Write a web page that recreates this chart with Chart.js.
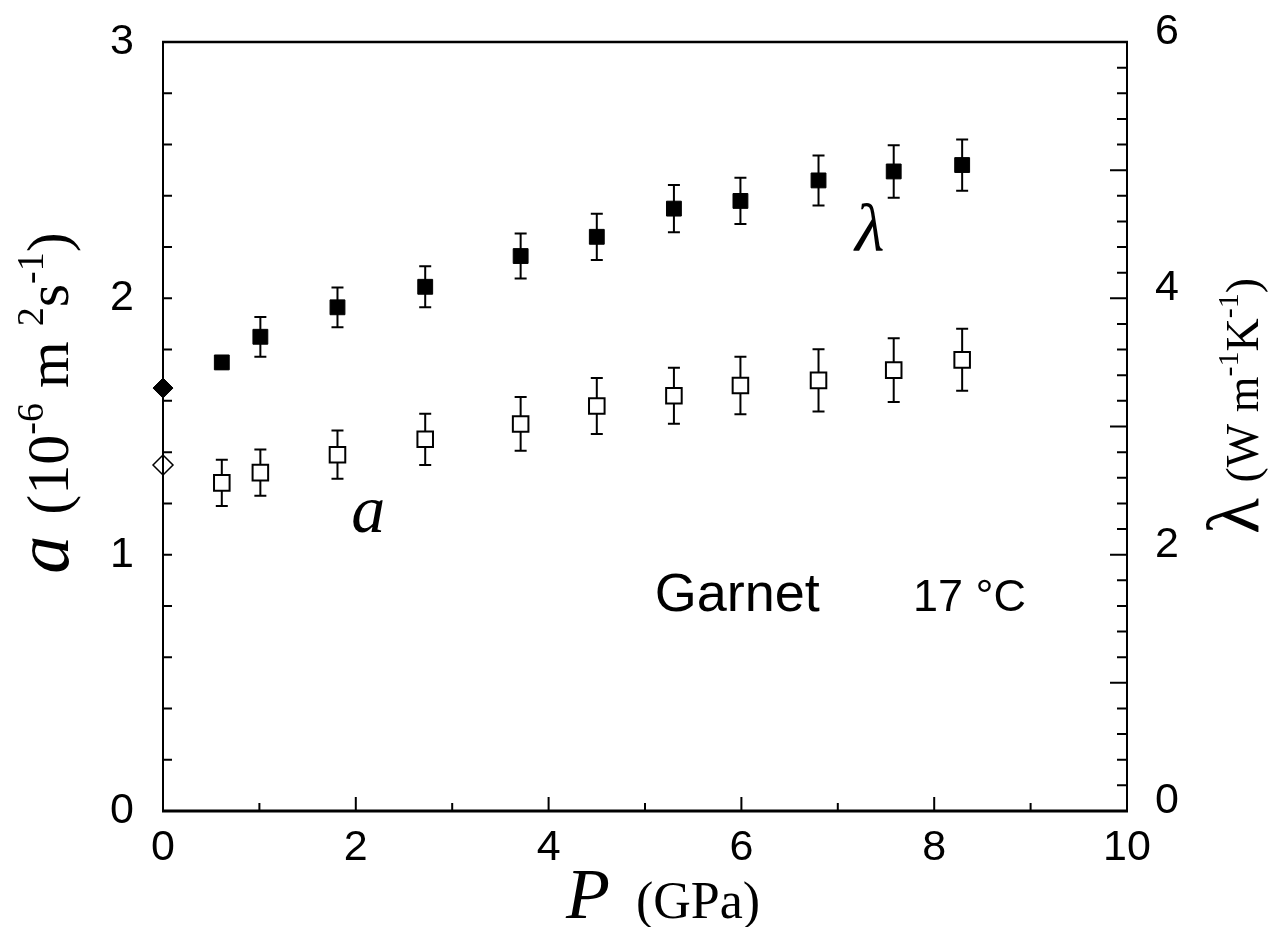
<!DOCTYPE html>
<html><head><meta charset="utf-8">
<script src="https://cdn.jsdelivr.net/npm/chart.js@4.4.0/dist/chart.umd.min.js"></script>
<style>html,body{margin:0;padding:0;background:#fff}canvas{display:block}</style>
</head><body>
<canvas id="c" width="1274" height="927"></canvas>
<script>
// ---- data ----
const pressureGPa       = [0.61, 1.01, 1.81, 2.72, 3.71, 4.50, 5.30, 5.99, 6.80, 7.58, 8.29];
const lambdaValues      = [3.50, 3.70, 3.93, 4.09, 4.33, 4.48, 4.70, 4.76, 4.92, 4.99, 5.04];
const lambdaErrors      = [0.05, 0.155, 0.155, 0.16, 0.175, 0.18, 0.185, 0.18, 0.195, 0.205, 0.20];
const diffusivityValues = [1.28, 1.32, 1.39, 1.45, 1.51, 1.58, 1.62, 1.66, 1.68, 1.72, 1.76];
const diffusivityErrors = [0.09, 0.09, 0.094, 0.10, 0.105, 0.109, 0.109, 0.112, 0.121, 0.124, 0.121];
const ambientPressure    = [0];
const ambientLambda      = [3.30];
const ambientDiffusivity = [1.35];
const xTickValues     = [0, 2, 4, 6, 8, 10];
const leftTickValues  = [0, 1, 2, 3];
const rightTickValues = [0, 2, 4, 6];

const SANS = "'Liberation Sans', Arial, sans-serif";
const SERIF = "'Liberation Serif', 'Times New Roman', serif";

function pts(xs, ys) { return xs.map((x, i) => ({ x: x, y: ys[i] })); }

const errorBarPlugin = {
  id: 'errorBars',
  beforeDatasetsDraw(chart) {
    const ctx = chart.ctx;
    ctx.save();
    ctx.strokeStyle = '#000';
    ctx.lineWidth = 2;
    chart.data.datasets.forEach(ds => {
      if (!ds.errorBars) return;
      const xs = chart.scales.x, ys = chart.scales[ds.yAxisID];
      ds.data.forEach((p, i) => {
        const e = ds.errorBars[i];
        const px = xs.getPixelForValue(p.x);
        const y1 = ys.getPixelForValue(p.y + e), y2 = ys.getPixelForValue(p.y - e);
        ctx.beginPath();
        ctx.moveTo(px, y1); ctx.lineTo(px, y2);
        ctx.moveTo(px - 6, y1); ctx.lineTo(px + 6, y1);
        ctx.moveTo(px - 6, y2); ctx.lineTo(px + 6, y2);
        ctx.stroke();
      });
    });
    ctx.restore();
  }
};

function drawRich(ctx, segs, cx, cy, rot) {
  ctx.save();
  ctx.translate(cx, cy);
  ctx.rotate(rot);
  let total = 0;
  segs.forEach(s => { ctx.font = s.font; s.w = ctx.measureText(s.t).width + (s.gap || 0); total += s.w; });
  let x = -total / 2;
  ctx.fillStyle = '#000';
  ctx.textBaseline = 'alphabetic';
  ctx.textAlign = 'left';
  segs.forEach(s => { ctx.font = s.font; ctx.fillText(s.t, x, s.dy || 0); x += s.w; });
  ctx.restore();
}

const framePlugin = {
  id: 'frameAndText',
  afterDraw(chart) {
    const ctx = chart.ctx, a = chart.chartArea;
    const xs = chart.scales.x, yl = chart.scales.yL, yr = chart.scales.yR;
    ctx.save();
    ctx.strokeStyle = '#000';
    ctx.lineCap = 'butt';
    ctx.lineWidth = 3;
    ctx.beginPath(); ctx.moveTo(a.left - 1, a.bottom); ctx.lineTo(a.right + 1, a.bottom); ctx.stroke();
    ctx.lineWidth = 2.5;
    ctx.beginPath(); ctx.moveTo(a.left - 1, a.top); ctx.lineTo(a.right + 1, a.top); ctx.stroke();
    ctx.lineWidth = 2;
    ctx.beginPath(); ctx.moveTo(a.left, a.top); ctx.lineTo(a.left, a.bottom); ctx.stroke();
    ctx.beginPath(); ctx.moveTo(a.right, a.top); ctx.lineTo(a.right, a.bottom); ctx.stroke();
    ctx.lineWidth = 2;
    ctx.beginPath();
    for (let k = 0; k <= 10; k++) {
      const px = xs.getPixelForValue(k);
      const len = (k % 2 === 0) ? 14 : 8;
      ctx.moveTo(px, a.bottom); ctx.lineTo(px, a.bottom - len);
    }
    for (let k = 0; k <= 15; k++) {
      const py = yl.getPixelForValue(k * 0.2);
      ctx.moveTo(a.left, py); ctx.lineTo(a.left + 9, py);
    }
    for (let k = 0; k <= 30; k++) {
      const py = yr.getPixelForValue(k * 0.2);
      const len = (k % 5 === 0) ? 17 : 10;
      ctx.moveTo(a.right, py); ctx.lineTo(a.right - len, py);
    }
    ctx.stroke();
    ctx.restore();

    ctx.save();
    ctx.fillStyle = '#000';
    ctx.textAlign = 'center';
    ctx.textBaseline = 'middle';
    ctx.font = 'italic 68px ' + SERIF;
    ctx.fillText('λ', xs.getPixelForValue(7.33), yr.getPixelForValue(4.51));
    ctx.font = 'italic 68px ' + SERIF;
    ctx.fillText('a', xs.getPixelForValue(2.13), yl.getPixelForValue(1.16));
    ctx.textAlign = 'left';
    ctx.textBaseline = 'alphabetic';
    ctx.font = '54px ' + SANS;
    ctx.fillText('Garnet', xs.getPixelForValue(5.10), yl.getPixelForValue(0.78));
    ctx.font = '45px ' + SANS;
    ctx.fillText('17 °C', xs.getPixelForValue(7.78), yl.getPixelForValue(0.78));
    ctx.restore();

    const S = 60, sup = 38;
    drawRich(ctx, [
      { t: 'a', font: 'italic 76px ' + SERIF, gap: 6 },
      { t: ' (10', font: S + 'px ' + SERIF },
      { t: '-6', font: sup + 'px ' + SERIF, dy: -25 },
      { t: ' m ', font: S + 'px ' + SERIF },
      { t: '2', font: sup + 'px ' + SERIF, dy: -25 },
      { t: 's', font: S + 'px ' + SERIF },
      { t: '-1', font: sup + 'px ' + SERIF, dy: -25 },
      { t: ')', font: S + 'px ' + SERIF }
    ], 68, 403, -Math.PI / 2);

    const R = 46, rs = 30;
    drawRich(ctx, [
      { t: 'λ', font: '74px ' + SERIF, gap: 4 },
      { t: ' (W m', font: R + 'px ' + SERIF },
      { t: '-1', font: rs + 'px ' + SERIF, dy: -20 },
      { t: 'K', font: R + 'px ' + SERIF },
      { t: '-1', font: rs + 'px ' + SERIF, dy: -20 },
      { t: ')', font: R + 'px ' + SERIF }
    ], 1258, 406, -Math.PI / 2);

    drawRich(ctx, [
      { t: 'P', font: 'italic 72px ' + SERIF },
      { t: '  (GPa)', font: '52px ' + SERIF }
    ], 663, 918, 0);
  }
};

const tickFont = { family: SANS, size: 43 };

function fixY(width) {
  return s => { s.width = width; s.paddingTop = 0; s.paddingBottom = 0; };
}

new Chart(document.getElementById('c'), {
  type: 'scatter',
  data: {
    datasets: [
      { label: 'a', data: pts(pressureGPa, diffusivityValues), errorBars: diffusivityErrors, yAxisID: 'yL',
        pointStyle: 'rect', pointRadius: 11, backgroundColor: '#fff', borderColor: '#000', borderWidth: 2, clip: false },
      { label: 'λ', data: pts(pressureGPa, lambdaValues), errorBars: lambdaErrors, yAxisID: 'yR',
        pointStyle: 'rect', pointRadius: 10.5, backgroundColor: '#000', borderColor: '#000', borderWidth: 1, clip: false },
      { label: 'a (ambient)', data: pts(ambientPressure, ambientDiffusivity), yAxisID: 'yL',
        pointStyle: 'rectRot', pointRadius: 10, backgroundColor: '#fff', borderColor: '#000', borderWidth: 1.5, clip: false },
      { label: 'λ (ambient)', data: pts(ambientPressure, ambientLambda), yAxisID: 'yR',
        pointStyle: 'rectRot', pointRadius: 10, backgroundColor: '#000', borderColor: '#000', borderWidth: 1, clip: false }
    ]
  },
  options: {
    responsive: false,
    animation: false,
    devicePixelRatio: 1,
    layout: { padding: { top: 42, left: 0, right: 0, bottom: 0 } },
    plugins: { legend: { display: false }, tooltip: { enabled: false } },
    scales: {
      x: {
        type: 'linear', position: 'bottom', min: 0, max: 10,
        afterBuildTicks: s => { s.ticks = xTickValues.map(v => ({ value: v })); },
        afterFit: s => { s.height = 116; s.paddingLeft = 0; s.paddingRight = 0; },
        ticks: { font: tickFont, color: '#000', padding: 11, maxRotation: 0, autoSkip: false },
        grid: { display: false, drawTicks: false }, border: { display: false }
      },
      yL: {
        type: 'linear', position: 'left', min: 0, max: 3,
        afterBuildTicks: s => { s.ticks = leftTickValues.map(v => ({ value: v })); },
        afterFit: fixY(163),
        ticks: { font: tickFont, color: '#000', padding: 29, autoSkip: false },
        grid: { display: false, drawTicks: false }, border: { display: false }
      },
      yR: {
        type: 'linear', position: 'right', min: 0, max: 6,
        afterBuildTicks: s => { s.ticks = rightTickValues.map(v => ({ value: v })); },
        afterFit: fixY(147),
        ticks: { font: tickFont, color: '#000', padding: 28, labelOffset: -10, autoSkip: false },
        grid: { display: false, drawTicks: false }, border: { display: false }
      }
    }
  },
  plugins: [errorBarPlugin, framePlugin]
});
</script>
</body></html>
